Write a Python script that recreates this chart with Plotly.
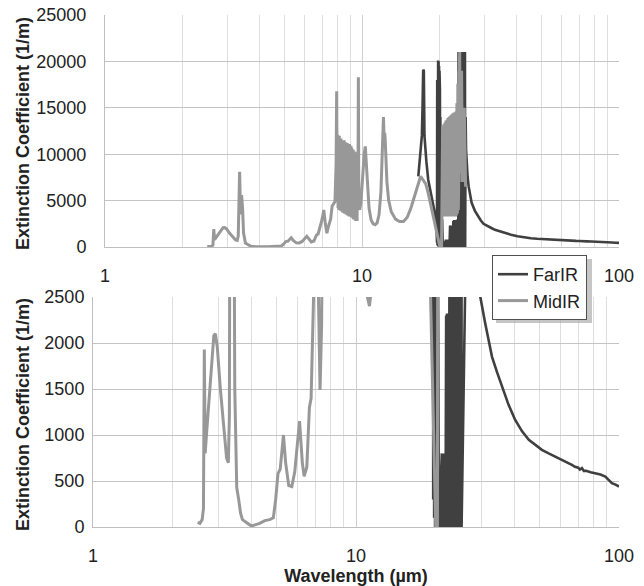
import plotly.graph_objects as go

# Mid-infrared extinction spectrum (wavelength in micrometres, coefficient in 1/m)
mid_wavelength = [
    2.50, 2.55, 2.60, 2.63, 2.65, 2.67, 2.70, 2.75, 2.82, 2.88, 2.92, 2.97, 3.05, 3.15,
    3.22, 3.27, 3.30, 3.34, 3.37, 3.40, 3.43, 3.46, 3.52, 3.58, 3.64, 3.70, 3.85, 4.00,
    4.10, 4.30, 4.50, 4.70, 4.85, 4.95, 5.05, 5.15, 5.30, 5.40, 5.55, 5.70, 5.85, 6.10,
    6.25, 6.35, 6.50, 6.65, 6.75, 6.88, 6.95, 7.05, 7.10, 7.20, 7.30, 7.40, 7.55, 7.65,
    7.85, 7.93, 7.97, 8.01, 8.04, 8.07, 8.10, 8.13, 8.16, 8.19, 8.22, 8.25, 8.28, 8.31,
    8.34, 8.37, 8.40, 8.43, 8.46, 8.49, 8.52, 8.55, 8.58, 8.61, 8.64, 8.67, 8.70, 8.73,
    8.76, 8.79, 8.82, 8.85, 8.88, 8.91, 8.94, 8.97, 9.00, 9.03, 9.06, 9.09, 9.12, 9.15,
    9.18, 9.21, 9.24, 9.27, 9.30, 9.33, 9.36, 9.39, 9.42, 9.45, 9.48, 9.51, 9.54, 9.57,
    9.60, 9.64, 9.68, 9.72, 9.80, 9.90, 10.00, 10.10, 10.20, 10.30, 10.40, 10.50, 10.65,
    10.85, 11.05, 11.25, 11.45, 11.65, 11.85, 11.95, 12.05, 12.12, 12.18, 12.25, 12.30,
    12.38, 12.50, 12.70, 13.00, 13.50, 14.00, 14.50, 15.00, 15.50, 16.00, 16.50, 16.90,
    17.30, 17.70, 18.10, 18.70, 19.20, 19.50, 19.80, 20.10, 20.40, 20.60, 20.70, 20.80,
    20.90, 21.00, 21.10, 21.20, 21.30, 21.40, 21.50, 21.60, 21.70, 21.80, 21.90, 22.00,
    22.10, 22.20, 22.30, 22.40, 22.50, 22.60, 22.70, 22.80, 22.90, 23.00, 23.10, 23.20,
    23.30, 23.40, 23.50, 23.60, 23.70, 23.76, 23.82, 23.88, 23.94, 24.00, 24.10, 24.40,
    24.60, 25.00, 25.20, 25.30,
]
mid_coefficient = [
    50, 40, 80, 200, 1930, 800, 1000, 1300, 1800, 2080, 2100, 1950, 1500, 1000,
    750, 700, 1200, 8100, 3500, 5600, 4200, 1500, 430, 300, 150, 80, 40, 10,
    20, 40, 70, 80, 100, 300, 580, 630, 1000, 700, 450, 440, 600, 1150,
    700, 550, 650, 1300, 1400, 2100, 2700, 3500, 4000, 2500, 1490, 2200, 3000, 4400,
    4900, 9000, 16770, 6000, 12100, 4200, 11800, 4000, 12000, 4300, 11600, 3900, 11700, 4100,
    11400, 3800, 11500, 3700, 11300, 3900, 11500, 3600, 11200, 3700, 11300, 3500, 11100, 3600,
    11200, 3400, 10900, 3500, 11000, 3300, 11100, 3400, 10800, 3300, 10900, 3200, 10700, 3300,
    10600, 3100, 10500, 3000, 10400, 3100, 10300, 2900, 10300, 2800, 10200, 2900, 10000, 2800,
    9500, 4000, 18300, 4500, 4000, 4770, 6500, 8500, 10000, 10840, 9200, 6500, 4200,
    2900, 2500, 2400, 2600, 3500, 6000, 9000, 12500, 14000, 12000, 12300, 11800,
    9500, 7000, 5000, 3800, 3000, 2750, 2750, 3200, 4200, 5500, 6800, 7600,
    7200, 6800, 5800, 4000, 2500, 1500, 600, 0, 0, 13000, 3300, 13200,
    3400, 13400, 3300, 13600, 3400, 13700, 3300, 13900, 3300, 14000, 3400, 14100,
    3300, 14200, 3300, 14300, 3400, 14400, 3300, 14500, 3400, 14500, 3300, 14600,
    3400, 15500, 3600, 17600, 4000, 6000, 19000, 7000, 20000, 21000, 8000, 19000,
    7000, 15000, 9600, 6500,
]

# Far-infrared extinction spectrum
far_wavelength = [
    16.56, 16.70, 16.85, 17.00, 17.10, 17.20, 17.30, 17.40, 17.50, 17.65, 17.80, 18.10,
    18.70, 19.20, 19.50, 19.54, 19.58, 19.62, 19.66, 19.70, 19.74, 19.78, 19.82, 19.86,
    19.90, 19.94, 19.98, 20.02, 20.06, 20.10, 20.14, 20.18, 20.22, 20.26, 20.30, 20.34,
    20.38, 20.42, 20.46, 20.50, 20.55, 20.60, 20.65, 20.70, 20.75, 20.80, 20.85, 20.90,
    20.95, 21.00, 21.05, 21.10, 21.15, 21.20, 21.25, 21.30, 21.38, 21.46, 21.54, 21.62,
    21.70, 21.78, 21.86, 21.94, 22.02, 22.10, 22.18, 22.26, 22.34, 22.42, 22.50, 22.58,
    22.66, 22.74, 22.82, 22.90, 22.98, 23.06, 23.14, 23.22, 23.30, 23.38, 23.46, 23.54,
    23.62, 23.70, 23.75, 23.80, 23.85, 23.90, 23.95, 24.00, 24.05, 24.10, 24.15, 24.20,
    24.25, 24.30, 24.35, 24.40, 24.45, 24.50, 24.55, 24.60, 24.65, 24.70, 24.75, 24.80,
    24.85, 24.90, 24.95, 25.00, 25.05, 25.10, 25.15, 25.20, 25.25, 25.30, 25.40, 25.50,
    25.75, 26.00, 26.35, 26.70, 27.50, 28.30, 29.00, 29.70, 30.30, 31.00, 32.00, 32.90,
    34.40, 35.90, 38.00, 40.30, 42.80, 45.40, 48.00, 50.90, 54.00, 57.30, 60.00, 62.00,
    63.50, 65.00, 66.20, 68.00, 70.00, 71.00, 72.30, 73.50, 75.00, 78.00, 81.30, 85.00,
    88.70, 91.00, 94.00, 97.00, 100.00,
]
far_coefficient = [
    7610, 9000, 10480, 11000, 12000, 15000, 19100, 19000, 12000, 9760, 9220, 7250,
    5450, 3660, 2220, 15000, 500, 18000, 300, 20000, 200, 20100, 100, 20000,
    0, 19500, 0, 19000, 0, 17000, 100, 14000, 0, 11000, 0, 8000,
    0, 5000, 0, 3000, 0, 600, 0, 550, 0, 600, 0, 500,
    0, 600, 0, 650, 0, 800, 0, 800, 0, 780, 0, 800,
    0, 790, 0, 800, 2300, 0, 2320, 0, 2300, 0, 2320, 0,
    2800, 0, 2900, 0, 2850, 0, 2900, 0, 2900, 0, 2950, 0,
    2900, 3000, 21000, 0, 21000, 0, 21000, 0, 21000, 0, 21000, 0,
    21000, 0, 21000, 0, 21000, 0, 21000, 0, 21000, 0, 21000, 0,
    21000, 0, 21000, 0, 21000, 0, 21000, 0, 21000, 14000, 10500, 9400,
    7600, 6530, 5500, 4770, 3900, 3300, 2850, 2500, 2350, 2213, 2020, 1850,
    1680, 1525, 1330, 1164, 1040, 947, 890, 838, 800, 766, 740, 720,
    700, 690, 676, 655, 645, 625, 640, 610, 610, 595, 586, 570,
    549, 520, 477, 460, 440,
]

x_tick_values = [1, 10, 100]
x_tick_labels = ["1", "10", "100"]
x_minor_values = [2, 3, 4, 5, 6, 7, 8, 9, 20, 30, 40, 50, 60, 70, 80, 90]
top_y_ticks = [0, 5000, 10000, 15000, 20000, 25000]
bottom_y_ticks = [0, 500, 1000, 1500, 2000, 2500]
y_title = "Extinction Coefficient (1/m)"
x_title = "Wavelength (µm)"

W, H = 644, 586
FAR_COLOR = "#404040"
MID_COLOR = "#989898"
FONT = "Liberation Sans, Arial, sans-serif"


def px_x(p):
    return p / W


def px_y(p):
    return 1 - p / H


fig = go.Figure()

for axis_x, axis_y, show in (("x", "y", True), ("x2", "y2", False)):
    fig.add_trace(go.Scatter(
        x=far_wavelength, y=far_coefficient, mode="lines", name="FarIR",
        line=dict(color=FAR_COLOR, width=2.6), xaxis=axis_x, yaxis=axis_y,
        showlegend=show, legendgroup="far",
    ))
    fig.add_trace(go.Scatter(
        x=mid_wavelength, y=mid_coefficient, mode="lines", name="MidIR",
        line=dict(color=MID_COLOR, width=3), xaxis=axis_x, yaxis=axis_y,
        showlegend=show, legendgroup="mid",
    ))

tick_font = dict(family=FONT, size=18, color="#222222")
title_font = dict(family=FONT, size=18, color="#222222", weight="bold")

x_common = dict(
    type="log", range=[0, 2], tickvals=x_tick_values, ticktext=x_tick_labels,
    showgrid=True, gridcolor="#cfcfcf", gridwidth=1,
    minor=dict(tickvals=x_minor_values, showgrid=True, gridcolor="#dedede", gridwidth=1),
    showline=True, linecolor="#bfbfbf", linewidth=1, ticks="",
    tickfont=tick_font, ticklabelstandoff=12, zeroline=False, fixedrange=True,
    automargin=False,
)
y_common = dict(
    showgrid=True, gridcolor="#c4c4c4", gridwidth=1,
    showline=True, linecolor="#bfbfbf", linewidth=1, ticks="",
    tickfont=tick_font, zeroline=False, fixedrange=True, automargin=False,
)

fig.update_layout(
    width=W, height=H,
    margin=dict(l=0, r=0, t=0, b=0),
    paper_bgcolor="white", plot_bgcolor="white",
    xaxis=dict(domain=[px_x(105), px_x(619)], anchor="y", **x_common),
    xaxis2=dict(domain=[px_x(93), px_x(619)], anchor="y2",
                title=dict(text=x_title, font=title_font, standoff=6),
                **x_common),
    yaxis=dict(domain=[px_y(247), px_y(15)], anchor="x", range=[0, 25000],
               tickvals=top_y_ticks, ticktext=[str(v) for v in top_y_ticks],
               ticklabelstandoff=14, **y_common),
    yaxis2=dict(domain=[px_y(527), px_y(297)], anchor="x2", range=[0, 2500],
                tickvals=bottom_y_ticks, ticktext=[str(v) for v in bottom_y_ticks],
                ticklabelstandoff=4, **y_common),
    legend=dict(
        x=px_x(492), y=px_y(255), xanchor="left", yanchor="top",
        bgcolor="white", bordercolor="#505050", borderwidth=1,
        font=dict(family=FONT, size=18, color="#222222"),
        itemwidth=30, tracegroupgap=0,
    ),
    showlegend=True,
)

# rotated y-axis titles for both panels
for centre_y in (134, 415):
    fig.add_annotation(
        text=y_title, textangle=-90, showarrow=False,
        xref="paper", yref="paper", x=px_x(23), y=px_y(centre_y),
        xanchor="center", yanchor="middle", font=title_font,
    )

# soft drop shadow behind the legend box
fig.add_shape(type="rect", xref="paper", yref="paper",
              x0=px_x(496), x1=px_x(592), y0=px_y(323), y1=px_y(259),
              fillcolor="#a0a0a0", opacity=0.6, line=dict(width=0), layer="above")

fig.write_html("out.html")
